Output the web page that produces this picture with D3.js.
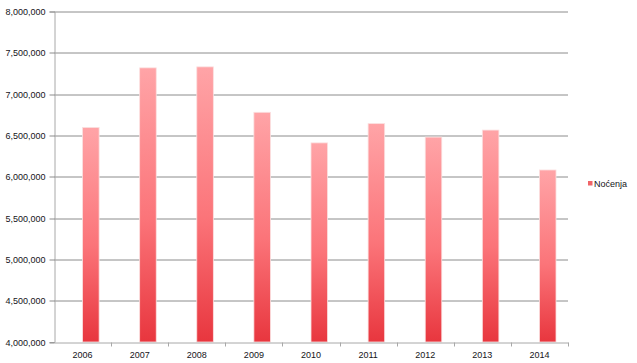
<!DOCTYPE html>
<html>
<head>
<meta charset="utf-8">
<script src="https://cdn.jsdelivr.net/npm/d3@7"></script>
<style>
  body { margin: 0; background: #fff; }
  text { font-family: "Liberation Sans", Arial, sans-serif; font-size: 9px; fill: #141420; }
</style>
</head>
<body>
<svg id="chart" width="637" height="363"></svg>
<script>
var years = ["2006", "2007", "2008", "2009", "2010", "2011", "2012", "2013", "2014"];
var nocenja = [6597000, 7318000, 7330000, 6780000, 6410000, 6643000, 6480000, 6565000, 6082000];
var yTicks = [4000000, 4500000, 5000000, 5500000, 6000000, 6500000, 7000000, 7500000, 8000000];
var seriesName = "Noćenja";

var svg = d3.select("#chart"),
    margin = {top: 11.5, right: 69, bottom: 21, left: 54},
    width = 637 - margin.left - margin.right,
    height = 363 - margin.top - margin.bottom,
    g = svg.append("g").attr("transform", "translate(" + margin.left + "," + margin.top + ")");

var x = d3.scaleBand().domain(years).range([0, width]);
var y = d3.scaleLinear().domain([4000000, 8000000]).range([height, 0]);

var grad = svg.append("defs").append("linearGradient")
    .attr("id", "barFill")
    .attr("x1", 0).attr("y1", 0).attr("x2", 0).attr("y2", 1);
grad.append("stop").attr("offset", "0%").attr("stop-color", "#ffa4a7");
grad.append("stop").attr("offset", "55%").attr("stop-color", "#fb7479");
grad.append("stop").attr("offset", "100%").attr("stop-color", "#e8363e");

// gridlines
g.append("g")
    .selectAll("line")
    .data(yTicks.slice(1))
    .enter().append("line")
      .attr("x1", 0).attr("x2", width)
      .attr("y1", function(d) { return Math.round(y(d)) + 0.5; })
      .attr("y2", function(d) { return Math.round(y(d)) + 0.5; })
      .attr("stroke", "#8c8c8c");

// y axis
var yAxis = g.append("g")
    .attr("transform", "translate(0.5,0)")
    .call(d3.axisLeft(y).tickValues(yTicks).tickFormat(d3.format(",")).tickSize(5).tickPadding(4));
yAxis.select(".domain").attr("stroke", "#a8a8a8");
yAxis.selectAll(".tick line").attr("stroke", "#8c8c8c")
    .attr("transform", function() { return ""; });
yAxis.selectAll(".tick").attr("transform", function(d) { return "translate(0," + (Math.round(y(d)) + 0.5) + ")"; });
yAxis.selectAll("text").style("font-family", "Liberation Sans, Arial, sans-serif").style("font-size", "9px").attr("fill", "#141420");

// bars
var bw = x.bandwidth() * 0.29;
g.selectAll(".bar")
    .data(nocenja)
    .enter().append("rect")
      .attr("class", "bar")
      .attr("x", function(d, i) { return x(years[i]) + x.bandwidth() / 2; })
      .attr("y", function(d) { return y(d); })
      .attr("width", bw)
      .attr("height", function(d) { return height - y(d); })
      .attr("fill", "url(#barFill)")
      .attr("stroke", "#fbe0e0")
      .attr("stroke-width", 0.8);

// x axis
var xAxis = g.append("g")
    .attr("transform", "translate(0," + (height + 0.5) + ")")
    .call(d3.axisBottom(x).tickSize(0).tickPadding(9));
xAxis.select(".domain").attr("stroke", "#a8a8a8");
xAxis.selectAll("text").style("font-family", "Liberation Sans, Arial, sans-serif").style("font-size", "9px").attr("fill", "#141420");
xAxis.selectAll(".sep")
    .data(years.slice(1).concat(["end"]))
    .enter().append("line")
      .attr("class", "sep")
      .attr("x1", function(d, i) { return Math.round(x.step() * (i + 1)) + 0.5; })
      .attr("x2", function(d, i) { return Math.round(x.step() * (i + 1)) + 0.5; })
      .attr("y1", 0).attr("y2", 4)
      .attr("stroke", "#a8a8a8");

// legend
var legend = svg.append("g").attr("transform", "translate(588,181)");
legend.append("rect").attr("width", 4.5).attr("height", 4.5).attr("fill", "#f06468");
legend.append("text").attr("x", 6).attr("y", 5.5).text(seriesName);
</script>
</body>
</html>
